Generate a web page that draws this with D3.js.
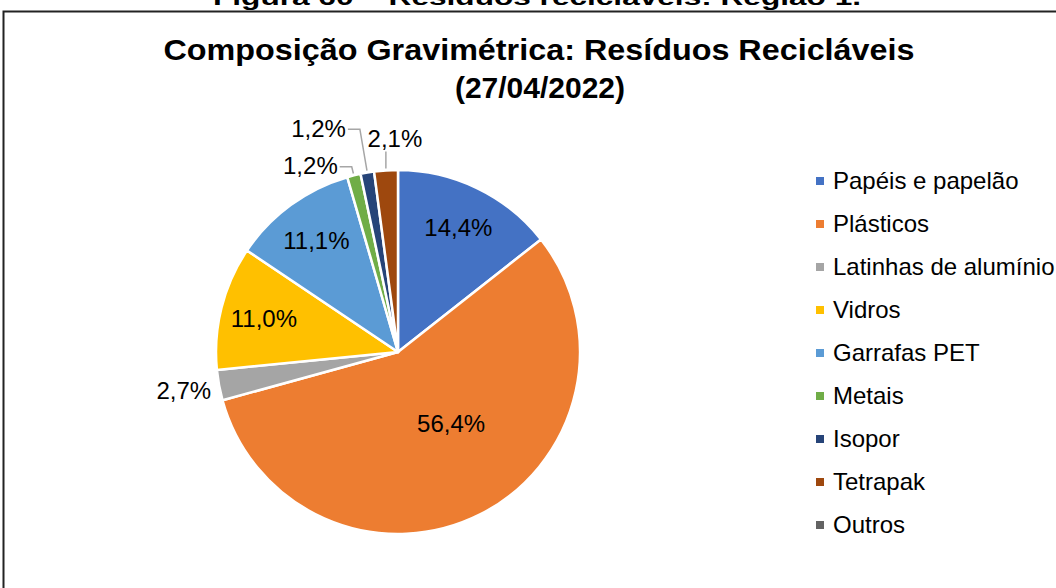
<!DOCTYPE html>
<html>
<head>
<meta charset="utf-8">
<script src="https://cdn.jsdelivr.net/npm/d3@7"></script>
<style>
	body { margin: 0; background: #fff; }
	svg { display: block; font-family: "Liberation Sans", Arial, sans-serif; }
</style>
</head>
<body>
<svg width="1056" height="588"></svg>
<script>
// chart data
const categories = ['Papéis e papelão', 'Plásticos', 'Latinhas de alumínio', 'Vidros', 'Garrafas PET', 'Metais', 'Isopor', 'Tetrapak', 'Outros']
const values = [14.4, 56.4, 2.7, 11.0, 11.1, 1.2, 1.2, 2.1, 0]
const labels = ['14,4%', '56,4%', '2,7%', '11,0%', '11,1%', '1,2%', '1,2%', '2,1%', '']
const colors = ['#4472C4', '#ED7D31', '#A5A5A5', '#FFC000', '#5B9BD5', '#70AD47', '#264478', '#9E480E', '#636363']

const svg = d3.select('svg')
const cx = 398, cy = 352, R = 182

// frame of the figure (cut off by the page)
svg.append('text')
	.attr('x', 537).attr('y', 5)
	.attr('text-anchor', 'middle')
	.attr('font-size', 22).attr('font-weight', 'bold')
	.attr('textLength', 648).attr('lengthAdjust', 'spacingAndGlyphs')
	.text('Figura 60 – Resíduos recicláveis: Região 1.')
svg.append('rect')
	.attr('x', 3.5).attr('y', 11.5).attr('width', 1100).attr('height', 700)
	.attr('fill', 'none').attr('stroke', '#222').attr('stroke-width', 2)

// title
let title = svg.append('text')
	.attr('text-anchor', 'middle')
	.attr('font-size', 30).attr('font-weight', 'bold').attr('fill', '#000')
title.append('tspan').attr('x', 539).attr('y', 60)
	.attr('textLength', 751).attr('lengthAdjust', 'spacingAndGlyphs')
	.text('Composição Gravimétrica: Resíduos Recicláveis')
title.append('tspan').attr('x', 540).attr('y', 98)
	.text('(27/04/2022)')

// pie
let pie = d3.pie().sort(null).value(d => d.value)
let arcs = pie(categories.map((c, i) => ({name: c, value: values[i], label: labels[i], color: colors[i]})))
let arc = d3.arc().innerRadius(0).outerRadius(R)

let g = svg.append('g').attr('transform', 'translate(' + cx + ',' + cy + ')')

g.selectAll('path')
	.data(arcs.filter(d => d.data.value > 0))
	.join('path')
	.attr('d', arc)
	.attr('fill', d => d.data.color)
	.attr('stroke', '#fff')
	.attr('stroke-width', 2.5)
	.attr('stroke-linejoin', 'round')

function pointAt(angle, r) {
	return [r * Math.sin(angle), -r * Math.cos(angle)]
}

arcs.forEach(d => {
	if (!d.data.label) return
	let mid = (d.startAngle + d.endAngle) / 2
	let share = d.data.value / 100
	let t = g.append('text')
		.attr('font-size', 24).attr('fill', '#000')
		.attr('dominant-baseline', 'central')
		.text(d.data.label)
	if (share > 0.5) {
		// big slice, Excel pulls its label inward
		let p = pointAt(mid - 0.17, R * 0.49)
		t.attr('x', p[0]).attr('y', p[1]).attr('text-anchor', 'middle')
	} else if (share > 0.05) {
		let p = pointAt(mid, R * 0.76)
		t.attr('x', p[0]).attr('y', p[1]).attr('text-anchor', 'middle')
	} else if (Math.abs(Math.sin(mid)) > 0.5) {
		// outside, close to the edge, no leader
		let p = pointAt(mid, R + 8)
		t.attr('x', p[0]).attr('y', p[1] + 4).attr('text-anchor', 'end')
	} else if (Math.abs(Math.sin(mid)) < 0.1) {
		// near the top: label above with a vertical leader
		let e = pointAt(mid, R + 2)
		t.attr('x', e[0] + 9).attr('y', e[1] - 30).attr('text-anchor', 'middle')
		g.append('path')
			.attr('d', d3.line()([[e[0], e[1]], [e[0], e[1] - 17]]))
			.attr('fill', 'none').attr('stroke', '#A6A6A6').attr('stroke-width', 1.5)
	} else {
		// outside with an elbow leader to the left
		let e = pointAt(mid, R + 2)
		let rL = d.index === 5 ? R + 9 : R + 44
		let k = pointAt(mid, rL)
		let h = [k[0] - 12, k[1]]
		t.attr('x', h[0] - 2).attr('y', h[1] - 1).attr('text-anchor', 'end')
		g.append('path')
			.attr('d', d3.line()([e, k, h]))
			.attr('fill', 'none').attr('stroke', '#A6A6A6').attr('stroke-width', 1.5)
	}
})

// legend
let legend = svg.append('g').attr('transform', 'translate(816,181)')
let rows = legend.selectAll('g')
	.data(categories)
	.join('g')
	.attr('transform', (d, i) => 'translate(0,' + (i * 43) + ')')
rows.append('rect')
	.attr('x', 0).attr('y', -4).attr('width', 8).attr('height', 8)
	.attr('fill', (d, i) => colors[i])
rows.append('text')
	.attr('x', 17).attr('y', -1)
	.attr('dominant-baseline', 'central')
	.attr('font-size', 24).attr('fill', '#000')
	.text(d => d)
</script>
</body>
</html>
